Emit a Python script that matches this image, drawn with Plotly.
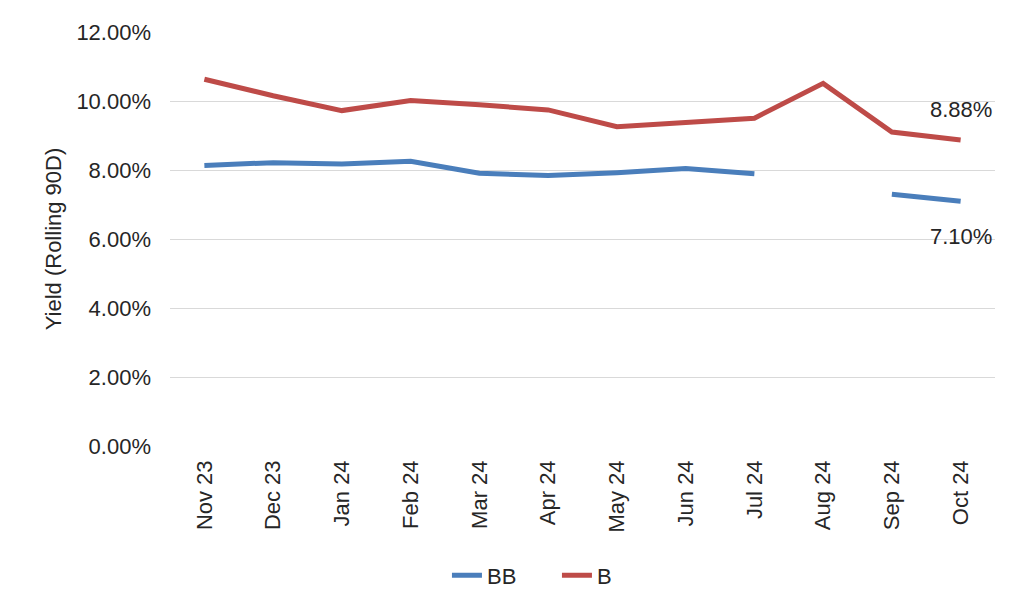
import plotly.graph_objects as go

months = ["Nov 23", "Dec 23", "Jan 24", "Feb 24", "Mar 24", "Apr 24",
          "May 24", "Jun 24", "Jul 24", "Aug 24", "Sep 24", "Oct 24"]
bb = [8.14, 8.22, 8.18, 8.26, 7.91, 7.85, 7.93, 8.05, 7.90, None, 7.30, 7.10]
b = [10.64, 10.16, 9.73, 10.02, 9.90, 9.75, 9.26, 9.39, 9.51, 10.52, 9.11, 8.88]
y_ticks = [0, 2, 4, 6, 8, 10, 12]
y_tick_labels = ["0.00%", "2.00%", "4.00%", "6.00%", "8.00%", "10.00%", "12.00%"]

font = "Liberation Sans, Arial, sans-serif"
txt = "#262626"
fs = 22

fig = go.Figure()
fig.add_trace(go.Scatter(x=months, y=bb, mode="lines", name="BB",
                         line=dict(color="#4a7ebb", width=5),
                         connectgaps=False))
fig.add_trace(go.Scatter(x=months, y=b, mode="lines", name="B",
                         line=dict(color="#be4b48", width=5)))

fig.add_annotation(x=months[-1], y=b[-1], text=f"{b[-1]:.2f}%", showarrow=False,
                   yshift=30, xshift=0, font=dict(size=fs, color=txt, family=font))
fig.add_annotation(x=months[-1], y=bb[-1], text=f"{bb[-1]:.2f}%", showarrow=False,
                   yshift=-35, xshift=0, font=dict(size=fs, color=txt, family=font))

fig.update_layout(
    width=1008, height=600,
    margin=dict(l=162, r=21, t=24, b=160),
    paper_bgcolor="white", plot_bgcolor="white",
    font=dict(family=font, size=fs, color=txt),
    showlegend=True,
    legend=dict(orientation="h", x=0.3357, xanchor="left", y=-0.3125, yanchor="middle",
                font=dict(size=fs, color=txt), entrywidth=65, entrywidthmode="pixels"),
)
fig.update_xaxes(type="category", range=[-0.5, 11.5], tickangle=-90,
                 showgrid=False, zeroline=False, showline=False, ticks="",
                 ticklabelstandoff=9,
                 tickfont=dict(size=fs, color=txt))
fig.update_yaxes(range=[0, 12.01], tickvals=y_ticks, ticktext=y_tick_labels,
                 showgrid=True, gridcolor="#d9d9d9", gridwidth=1,
                 zeroline=False, showline=False, ticks="",
                 ticklabelstandoff=18,
                 tickfont=dict(size=fs, color=txt),
                 title=dict(text="Yield (Rolling 90D)", font=dict(size=fs, color=txt),
                            standoff=8))

fig.write_html("out.html")
